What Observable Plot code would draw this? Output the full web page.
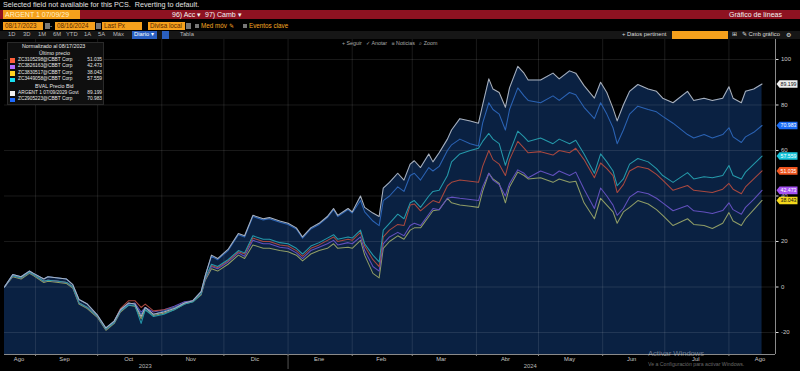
<!DOCTYPE html>
<html><head><meta charset="utf-8">
<script src="https://cdn.jsdelivr.net/npm/d3@7"></script>
<script src="https://cdn.jsdelivr.net/npm/@observablehq/plot@0.6"></script>
<style>
html,body{margin:0;padding:0;background:#000;width:800px;height:371px;overflow:hidden;font-family:"Liberation Sans",Arial,sans-serif;}
#wrap{position:relative;width:800px;height:371px;background:#000;}
.a{position:absolute;white-space:nowrap;line-height:1;}
.box{position:absolute;box-sizing:border-box;}
</style></head><body><div id="wrap">
<!-- row 1 -->
<div class="a" style="left:3px;top:1px;font-size:7.2px;color:#e0e0e0;">Selected field not available for this PCS.&nbsp; Reverting to default.</div>
<!-- row 2 -->
<div class="box" style="left:0;top:10px;width:800px;height:9px;background:#8e1221;"></div>
<div class="box" style="left:3px;top:10px;width:77px;height:9px;background:#f5a01c;"></div>
<div class="a" style="left:5px;top:11px;font-size:7px;color:#fff2c8;">ARGENT 1 07/09/29</div>
<div class="a" style="left:172px;top:11px;font-size:7px;color:#f4f4f4;">96) Acc ▾</div>
<div class="a" style="left:205px;top:11px;font-size:7px;color:#f4f4f4;">97) Camb ▾</div>
<div class="a" style="left:729px;top:11px;font-size:7px;color:#f4f4f4;">Gráfico de líneas</div>
<!-- row 3 -->
<div class="box" style="left:3px;top:22px;width:40px;height:8px;background:#f5a01c;"></div>
<div class="a" style="left:5px;top:23px;font-size:6.3px;color:#5a2a00;">08/17/2023</div>
<div class="box" style="left:45px;top:23px;width:5px;height:6px;background:#777;"></div>
<div class="a" style="left:50px;top:23px;font-size:6.3px;color:#ccc;">-</div>
<div class="box" style="left:55px;top:22px;width:40px;height:8px;background:#f5a01c;"></div>
<div class="a" style="left:57px;top:23px;font-size:6.3px;color:#5a2a00;">08/16/2024</div>
<div class="box" style="left:96px;top:23px;width:5px;height:6px;background:#777;"></div>
<div class="box" style="left:102px;top:22px;width:40px;height:8px;background:#f5a01c;"></div>
<div class="a" style="left:104px;top:23px;font-size:6.3px;color:#5a2a00;">Last Px</div>
<div class="box" style="left:148px;top:22px;width:37px;height:8px;background:#f5a01c;"></div>
<div class="a" style="left:150px;top:23px;font-size:6.3px;color:#5a2a00;">Divisa local</div>
<div class="box" style="left:186px;top:23px;width:5px;height:6px;background:#777;"></div>
<div class="box" style="left:195px;top:24px;width:4px;height:4px;background:#777;"></div>
<div class="a" style="left:201px;top:23px;font-size:6.3px;color:#f5a623;">Med móv ✎</div>
<div class="box" style="left:243px;top:24px;width:4px;height:4px;background:#777;"></div>
<div class="a" style="left:249px;top:23px;font-size:6.3px;color:#f5a623;">Eventos clave</div>
<!-- row 4 -->
<div class="box" style="left:0;top:31px;width:800px;height:8px;background:#161616;"></div>
<div class="a" style="left:8px;top:32px;font-size:5.8px;color:#bbb;">1D</div>
<div class="a" style="left:23px;top:32px;font-size:5.8px;color:#bbb;">3D</div>
<div class="a" style="left:38px;top:32px;font-size:5.8px;color:#bbb;">1M</div>
<div class="a" style="left:53px;top:32px;font-size:5.8px;color:#bbb;">6M</div>
<div class="a" style="left:66px;top:32px;font-size:5.8px;color:#bbb;">YTD</div>
<div class="a" style="left:84px;top:32px;font-size:5.8px;color:#bbb;">1A</div>
<div class="a" style="left:98px;top:32px;font-size:5.8px;color:#bbb;">5A</div>
<div class="a" style="left:113px;top:32px;font-size:5.8px;color:#bbb;">Máx</div>
<div class="box" style="left:132px;top:31px;width:25px;height:8px;background:#2a5fc0;"></div>
<div class="a" style="left:134px;top:32px;font-size:5.8px;color:#fff;">Diario ▾</div>
<div class="box" style="left:162px;top:31px;width:7px;height:8px;background:#2a5fc0;"></div>
<div class="a" style="left:180px;top:32px;font-size:5.8px;color:#bbb;">Tabla</div>
<div class="a" style="left:622px;top:32px;font-size:5.8px;color:#ddd;">+ Datos pertinent</div>
<div class="box" style="left:672px;top:31px;width:56px;height:8px;background:#f5a01c;"></div>
<div class="a" style="left:732px;top:32px;font-size:5.8px;color:#ddd;">⊞</div>
<div class="a" style="left:742px;top:32px;font-size:5.8px;color:#ddd;">✎ Cmb gráfico</div>
<div class="a" style="left:786px;top:32px;font-size:6px;color:#ddd;">⚙</div>

<div id="chart" class="a" style="left:0;top:39px;"></div>

<!-- row 5 tools -->
<div class="a" style="left:342px;top:41px;font-size:5.3px;color:#aaa;">+ Seguir&nbsp;&nbsp; ✓ Anotar&nbsp;&nbsp; ≡ Noticias&nbsp;&nbsp; ⌕ Zoom</div>

<!-- legend -->
<div class="box" style="left:7px;top:42px;width:97px;height:63px;background:#0f0f0f;border:1px solid #2a2a2a;"></div>
<div id="legend"></div>

<!-- watermark -->
<div class="a" style="left:648px;top:350px;font-size:7.6px;color:rgba(255,255,255,0.40);">Activar Windows</div>
<div class="a" style="left:648px;top:362px;font-size:5.2px;color:rgba(255,255,255,0.40);">Ve a Configuración para activar Windows.</div>
</div>
<script>
// ---- data ----
const dates = ["2023-08-17","2023-08-21","2023-08-25","2023-08-29","2023-08-31","2023-09-05","2023-09-07","2023-09-12","2023-09-16","2023-09-19","2023-09-22","2023-09-26","2023-10-01","2023-10-05","2023-10-09","2023-10-12","2023-10-16","2023-10-19","2023-10-22","2023-10-24","2023-10-28","2023-11-02","2023-11-07","2023-11-12","2023-11-16","2023-11-20","2023-11-22","2023-11-25","2023-11-28","2023-12-03","2023-12-08","2023-12-11","2023-12-15","2023-12-20","2023-12-23","2023-12-28","2024-01-01","2024-01-05","2024-01-08","2024-01-12","2024-01-16","2024-01-20","2024-01-23","2024-01-25","2024-01-30","2024-02-01","2024-02-05","2024-02-07","2024-02-11","2024-02-14","2024-02-16","2024-02-19","2024-02-23","2024-02-26","2024-02-29","2024-03-02","2024-03-05","2024-03-09","2024-03-11","2024-03-14","2024-03-18","2024-03-20","2024-03-24","2024-03-29","2024-04-02","2024-04-04","2024-04-07","2024-04-09","2024-04-12","2024-04-15","2024-04-17","2024-04-21","2024-04-24","2024-04-26","2024-05-02","2024-05-08","2024-05-11","2024-05-16","2024-05-19","2024-05-23","2024-05-28","2024-05-31","2024-06-03","2024-06-06","2024-06-08","2024-06-11","2024-06-14","2024-06-18","2024-06-23","2024-06-27","2024-06-30","2024-07-05","2024-07-12","2024-07-15","2024-07-20","2024-07-24","2024-07-29","2024-08-01","2024-08-03","2024-08-07","2024-08-09","2024-08-13","2024-08-17"];

const argent2029 = [0,5.5,4.5,7,6,3.5,4.5,4,3.5,1,-5.5,-7.5,-12.5,-18,-15,-10,-7,-7.5,-13,-9,-12,-11,-9.5,-7,-6,-2,5,14,12.5,16.5,23.5,22.5,31.5,30,30.5,29,28,26,22,26,28,31,34.5,31.5,34.5,33,40,35,32.5,31,43.5,46,50,47,54,55.5,52.5,58.5,55,59,65,69,74,73,72,80,91.5,87,85.5,79,87.5,97,94,91,91,94,91.5,95,94,88.5,83,90,85.5,78.5,73,80,86,89,87,86,83,81,86,82,83,82,83,88,83,81,86,87,89.199];
const zc2905223 = [0,5.5,4.5,7,6,3.5,4.5,4,3.5,1,-5.5,-7.5,-12.5,-18,-15,-10,-7.2,-7.5,-12,-9,-12,-10.5,-9,-7,-6,-2,5,13.5,12,16,23,22,31,29.5,30,28.5,27.5,25.5,21.5,25.5,27.5,30.5,34,31,34,32.5,38,33,29,27,38,40,44,42,49,50,47,52.5,51,53,60,62.5,65,63,62,72,81,78,76,69,78,87.5,84,82,81,84,82,85.5,84.5,79,74,81,76,70,63,69,76,79.5,78,77,75,72,67,65.5,67,65.5,67,70,66,63.5,66,68,70.983];
const zc3449058 = [0,5,4,6.5,5.5,2.5,3,2.5,2,0,-7,-9,-13,-18.5,-15.5,-10.5,-8,-8,-16,-10,-13,-12,-10,-7.5,-6.5,-3,4,10,9,12,16,15,22.5,21,21,19.5,19,17,14.5,18,19.5,21.5,23,21,22,21.5,25,19,14,11,25,28,32,30,37,38,35,40,42,42.5,49,55,58.5,60,61,64,67.5,65,63,53.5,59,68.5,66,64,65.5,63,65,63,64.5,58.5,50,58.5,55,51,44.5,47.5,54,56.5,55,52,49,46,50.3,47.5,48.5,48,49,53.4,49,47.5,50.5,54,57.559];
const zc3105298 = [0,5,4,6.5,5.5,2.5,3,2.5,2,0,-7,-9,-13,-18.5,-15,-9.5,-6,-6,-9,-7.5,-10.5,-10,-9,-7,-6,-3,4,9.5,8.5,11.5,15.5,14.5,21.5,20,20,18.5,18,16,13.5,17,18.5,20.5,22,20,21,20.5,24,18,12,9,22,25,27.5,27,36,36.5,33.5,36.5,38,37,44.5,46,47,46.5,46,53,60,56,54,49,56,64,61,59,59.5,58,60,59,61,56,48,54.5,52,49,41.5,45,51,53,52,49.5,47,42.5,44.6,42.5,42,41.5,43,45.5,43,41,44,47.5,51.035];
const zc3826163 = [0,5,4,6.5,5.5,2.5,3,2.5,2,0,-7,-9,-13,-18.5,-15.5,-10.5,-7.5,-7,-11,-9,-11,-10,-8.5,-6.5,-6,-3,3.5,9,8,11,15,13.5,20.5,19,19,17.5,17,15,12.5,16,17.5,19,20.5,18.5,19.5,19,22,16,9,7,19,22,24,22.5,27,28,27,32,34.5,34,39,39.5,39,38.5,38,44,50,47,45,40,45.5,51.5,50,48,51,49,51,49,50.5,43,34.5,43.5,40,36,31.5,34.5,39.5,42,41,39,37,33.5,35.8,33.5,33,32.3,33.6,37,34,32,35,38.5,42.473];
const zc3830517 = [0,4.5,3.5,6,5,2,2.5,2,1.5,-0.5,-7.5,-9.5,-13.5,-19,-16,-11,-8,-8.5,-14,-10,-12.5,-11.5,-10,-7.5,-6.5,-3.5,3,8,7,10,14,12.5,18.5,17,17,16,15.5,14,11.5,14.5,16,17,19,17,17.5,17,20.5,14,6,4,17,20,22.5,21,25,26,26,31,33.5,34,39,37,36,35.5,35,42,50,47.5,45.5,37,44,50.5,49,47.5,48,46,47.5,46,46.5,37,30,39,36,33,28,33,35,38,36.5,34,31.5,27,30,27.5,27,25.7,28,32.7,29,27,30,34,38.043];

const seriesNames = ["ZC3105298@CBBT Corp","ZC3826163@CBBT Corp","ZC3830517@CBBT Corp","ZC3449058@CBBT Corp","ARGENT 1 07/09/2029 Govt","ZC2905223@CBBT Corp"];
const lastValues = ["51.035","42.473","38.043","57.559","89.199","70.983"];

const monthStarts = ["2023-09-01","2023-10-01","2023-11-01","2023-12-01","2024-01-01","2024-02-01","2024-03-01","2024-04-01","2024-05-01","2024-06-01","2024-07-01","2024-08-01"];
const monthLabelDates = ["2023-08-24","2023-09-15","2023-10-16","2023-11-15","2023-12-16","2024-01-16","2024-02-15","2024-03-15","2024-04-15","2024-05-16","2024-06-15","2024-07-16","2024-08-16"];
const monthLabels = ["Ago","Sep","Oct","Nov","Dic","Ene","Feb","Mar","Abr","May","Jun","Jul","Ago"];
const yearLabelDates = ["2023-10-24","2024-04-27"];
const yearLabels = ["2023","2024"];
const yTicks = [100,80,60,40,20,0,-20];
const yGrid = [-20,0,20,40,60,80,100];

// ---- build ----
const valueArrays = [zc3105298, zc3826163, zc3830517, zc3449058, argent2029, zc2905223];
const lineColors = ["#a8483f","#6250bd","#8f9c66","#2599aa","#aab1bc","#2b63b4"];
const legendColors = ["#ff5f3a","#b26bff","#ffd21f","#19e0f0","#f2f2f2","#1f6bff"];
const tagColors = ["#f0561f","#a552f2","#f4d81c","#18c6dc","#eeeeee","#1a6cf5"];
const tagText = ["#fff","#fff","#111","#fff","#111","#fff"];

const P = (s) => new Date(s + "T00:00:00Z");
const rows = dates.map((d, i) => ({date: P(d), W: argent2029[i]}));
const series = valueArrays.map((vals, k) => ({
  k, data: dates.map((d, i) => ({date: P(d), v: vals[i]}))
}));
const xStart = P(dates[0]);
const xEnd = new Date("2024-08-23T12:00:00Z");
const yMin = -29.67, yMax = 108.79;

const monthMap = new Map(monthLabelDates.map((d, i) => [+P(d), monthLabels[i]]));
const yearMap = new Map(yearLabelDates.map((d, i) => [+P(d), yearLabels[i]]));

const tagSymbol = {draw(ctx) {
  ctx.moveTo(-11, 0); ctx.lineTo(-8, -3.8); ctx.lineTo(10, -3.8);
  ctx.lineTo(10, 3.8); ctx.lineTo(-8, 3.8); ctx.closePath();
}};

const drawOrder = [2, 1, 0, 3, 5, 4];
const tagOrder = [4, 5, 3, 0, 1, 2];

const marks = [
  Plot.areaY(rows, {x: "date", y1: yMin, y2: "W", fill: "#0a2142", curve: "linear"}),
  Plot.ruleX(monthStarts.map(P), {stroke: "#ffffff", strokeOpacity: 0.10}),
  Plot.ruleY(yGrid, {stroke: "#ffffff", strokeOpacity: 0.10}),
  ...drawOrder.map(k => Plot.line(series[k].data, {x: "date", y: "v", stroke: lineColors[k], strokeWidth: 1.05})),
  Plot.ruleX([xEnd], {stroke: "#8a8a8a", strokeWidth: 1}),
  Plot.ruleY([yMin], {stroke: "#8a8a8a", strokeWidth: 1}),
  Plot.axisY(yTicks, {anchor: "right", tickSize: 2.5, tickPadding: 3, fontSize: 6, stroke: "#ddd", fill: "#c8c8c8", tickFormat: d => String(d)}),
  Plot.axisX(monthStarts.map(P), {tickSize: 2, stroke: "#888", tickFormat: () => ""}),
  Plot.axisX([P("2024-01-01")], {tickSize: 15, stroke: "#555", tickFormat: () => ""}),
  Plot.axisX(monthLabelDates.map(P), {tickSize: 0, tickPadding: 2, fontSize: 5.8, fill: "#c8c8c8", tickFormat: d => monthMap.get(+d)}),
  Plot.axisX(yearLabelDates.map(P), {tickSize: 0, tickPadding: 9, fontSize: 5.8, fill: "#b8b8b8", tickFormat: d => yearMap.get(+d)}),
  ...tagOrder.map(k => Plot.dot([{v: +lastValues[k]}], {y: "v", frameAnchor: "right", dx: 12, symbol: tagSymbol, fill: tagColors[k], stroke: "none", r: 4})),
  ...tagOrder.map(k => Plot.text([{v: +lastValues[k], t: lastValues[k]}], {y: "v", text: "t", frameAnchor: "right", dx: 13, textAnchor: "middle", fill: tagText[k], fontSize: 5.2}))
];

const chart = Plot.plot({
  width: 800, height: 332,
  marginLeft: 4, marginRight: 25, marginTop: 0, marginBottom: 17,
  x: {type: "utc", domain: [xStart, xEnd], axis: null},
  y: {domain: [yMin, yMax], axis: null},
  style: {background: "transparent", color: "#c8c8c8", fontFamily: "Liberation Sans, Arial, sans-serif", overflow: "visible"},
  marks
});
document.getElementById("chart").appendChild(chart);

// legend (HTML overlay)
const leg = document.getElementById("legend");
function addText(txt, left, top, opts = {}) {
  const d = document.createElement("div");
  d.className = "a";
  d.textContent = txt;
  d.style.left = left + "px"; d.style.top = top + "px";
  d.style.fontSize = (opts.size || 5.2) + "px";
  d.style.color = opts.color || "#e6e6e6";
  if (opts.right) { d.style.left = ""; d.style.right = (800 - left) + "px"; }
  leg.appendChild(d);
}
addText("Normalizado al 08/17/2023", 22, 43.5, {size: 5.3});
addText("Último precio", 39, 50.5, {size: 5.3});
const legRows = [[0, 57.5], [1, 64], [2, 70.5], [3, 77]];
const legRows2 = [[4, 90.5], [5, 97]];
addText("BVAL Precio Bid", 35, 83.5, {size: 5.3});
for (const [k, top] of [...legRows, ...legRows2]) {
  const sq = document.createElement("div");
  sq.className = "box";
  sq.style.cssText = `left:10px;top:${top + 0.5}px;width:4.5px;height:4.5px;background:${legendColors[k]};`;
  leg.appendChild(sq);
  addText(seriesNames[k], 18, top, {size: 4.8});
  addText(lastValues[k], 102, top, {right: true, size: 4.8});
}
</script>
</body></html>
